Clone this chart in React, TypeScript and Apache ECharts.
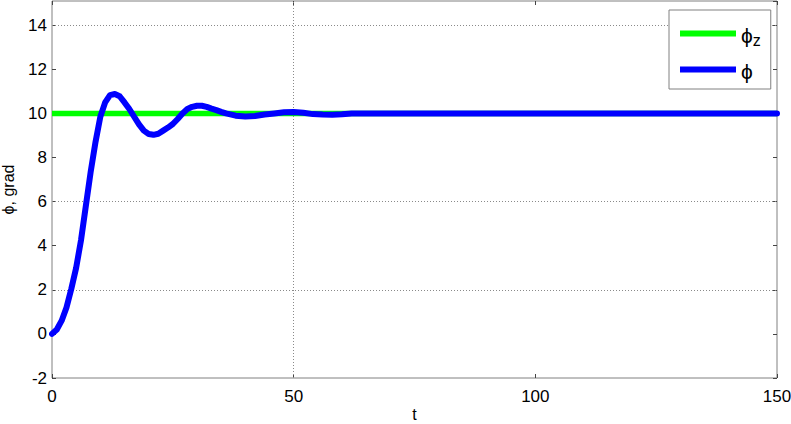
import React, { useEffect, useRef } from "react";
import * as echarts from "echarts";

const tValues = [0, 1, 2, 3, 4, 5, 6, 7, 8, 9, 10, 11, 12, 13, 14, 15, 16, 17, 18, 19, 20, 21, 22, 23, 24, 25, 26, 27, 28, 29, 30, 31, 32, 33, 34, 35, 36, 38, 40, 42, 44, 46, 48, 50, 52, 54, 56, 58, 60, 62, 64, 150];
const phiValues = [0, 0.2, 0.6, 1.2, 2.05, 3.0, 4.25, 5.8, 7.35, 8.7, 9.85, 10.5, 10.83, 10.88, 10.78, 10.5, 10.2, 9.85, 9.5, 9.22, 9.07, 9.03, 9.08, 9.22, 9.36, 9.52, 9.75, 10.0, 10.2, 10.3, 10.35, 10.35, 10.3, 10.22, 10.15, 10.07, 10.0, 9.9, 9.86, 9.88, 9.95, 10.0, 10.05, 10.07, 10.03, 9.97, 9.95, 9.94, 9.96, 10.0, 10.0, 10.0];
const phiZT = [0, 150];
const phiZValues = [10, 10];
const yGridValues = [2, 6, 10, 14];
const xGridValues = [50];

const FONT = "'Liberation Sans', Arial, Helvetica, sans-serif";

export default function App() {
  const ref = useRef<HTMLDivElement>(null);
  useEffect(() => {
    document.body.style.margin = "0";
    const chart = echarts.init(ref.current!, null, { renderer: "svg" });
    const tickStyle = { show: true, inside: true, length: 4, lineStyle: { color: "#444", width: 1 } };
    const option: any = {
      animation: false,
      backgroundColor: "#fff",
      textStyle: { fontFamily: FONT },
      grid: {
        left: 52, right: 14, top: 1, bottom: 46,
        containLabel: false, outerBoundsMode: "none",
        show: true, borderColor: "#808080", borderWidth: 1, backgroundColor: "transparent",
      },
      legend: {
        orient: "vertical",
        left: 669, top: 10,
        padding: [9, 10, 7, 11],
        itemGap: 9,
        itemWidth: 56, itemHeight: 6,
        icon: "rect",
        borderColor: "#808080", borderWidth: 1,
        backgroundColor: "#fff",
        data: ["phi_z", "phi"],
        formatter: (n: string) => (n === "phi_z" ? "{p|ϕ}{s|z}" : "{p|ϕ}"),
        textStyle: {
          color: "#000", fontFamily: FONT, fontSize: 18,
          rich: {
            p: { fontSize: 21, fontFamily: FONT, color: "#000", lineHeight: 22, padding: [4, 0, 0, 0] },
            s: { fontSize: 16, fontFamily: FONT, color: "#000", padding: [13, 0, 0, 0], lineHeight: 14 },
          },
        },
      },
      xAxis: [
        {
          type: "value", min: 0, max: 150, interval: 50, position: "bottom",
          axisLine: { show: false, onZero: false }, axisTick: tickStyle, splitLine: { show: false },
          axisLabel: { color: "#000", fontSize: 17, fontFamily: FONT, margin: 10 },
          name: "t", nameLocation: "middle", nameGap: 28, nameMoveOverlap: false,
          nameTextStyle: { color: "#000", fontSize: 16, fontFamily: FONT, lineHeight: 16 },
        },
        {
          type: "value", min: 0, max: 150, interval: 50, position: "top",
          axisLine: { show: false, onZero: false }, axisTick: tickStyle, splitLine: { show: false },
          axisLabel: { show: false },
        },
      ],
      yAxis: [
        {
          type: "value", min: -2, max: 15.1, interval: 2, position: "left",
          axisLine: { show: false, onZero: false }, axisTick: tickStyle, splitLine: { show: false },
          axisLabel: { color: "#000", fontSize: 17, fontFamily: FONT, margin: 5, showMaxLabel: false },
          name: "ϕ, grad", nameLocation: "middle", nameGap: 36, nameRotate: 90,
          nameTextStyle: { color: "#000", fontSize: 16, fontFamily: FONT },
        },
        {
          type: "value", min: -2, max: 15.1, interval: 2, position: "right",
          axisLine: { show: false, onZero: false }, axisTick: tickStyle, splitLine: { show: false },
          axisLabel: { show: false },
        },
      ],
      series: [
        {
          name: "phi_z", type: "line", color: "#00ff00",
          data: phiZT.map((t, i) => [t, phiZValues[i]]),
          showSymbol: false, symbol: "none",
          lineStyle: { width: 5.5, color: "#00ff00" },
          z: 2,
          markLine: {
            silent: true, symbol: ["none", "none"], z: 1,
            label: { show: false },
            lineStyle: { type: [1, 2], color: "#8a8a8a", width: 1 },
            emphasis: { disabled: true },
            data: [
              ...yGridValues.map((v) => ({ yAxis: v })),
              ...xGridValues.map((v) => ({ xAxis: v })),
            ],
          },
        },
        {
          name: "phi", type: "line", color: "#0000ff",
          data: tValues.map((t, i) => [t, phiValues[i]]),
          showSymbol: false, symbol: "none",
          lineStyle: { width: 6, color: "#0000ff", cap: "round", join: "round" },
          z: 3,
        },
      ],
    };
    chart.setOption(option);
    return () => chart.dispose();
  }, []);
  return (
    <div
      ref={ref}
      style={{ width: 791, height: 424, position: "fixed", left: 0, top: 0, background: "#fff" }}
    />
  );
}
